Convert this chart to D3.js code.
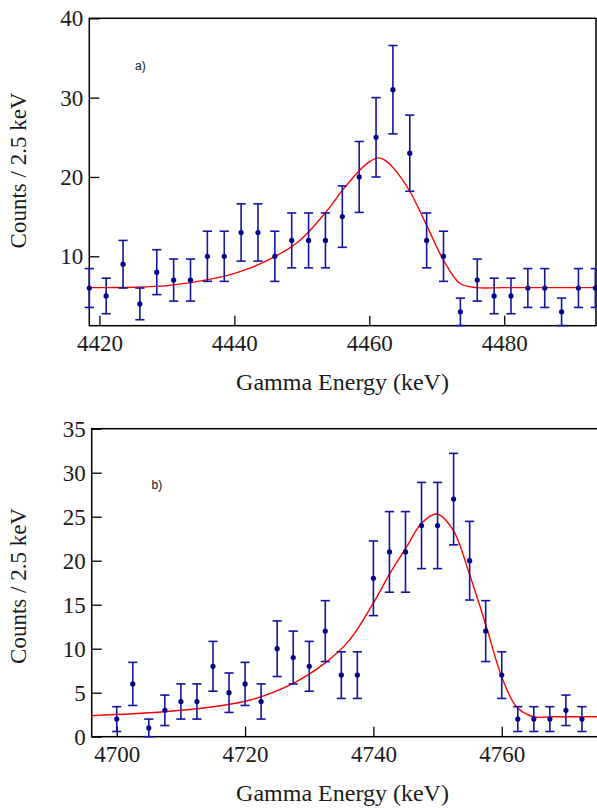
<!DOCTYPE html>
<html>
<head>
<meta charset="utf-8">
<script src="https://cdn.jsdelivr.net/npm/d3@7"></script>
<style>
  body { margin: 0; background: #fff; }
</style>
</head>
<body>
<svg width="597" height="808"></svg>
<script>
// panel a) counts per 2.5 keV bin
const energyA = [4418.5, 4421, 4423.5, 4426, 4428.5, 4431, 4433.5, 4436, 4438.5, 4441, 4443.5,
  4446, 4448.5, 4451, 4453.5, 4456, 4458.5, 4461, 4463.5, 4466, 4468.5, 4471, 4473.5,
  4476, 4478.5, 4481, 4483.5, 4486, 4488.5, 4491, 4493.5];
const countsA = [6, 5, 9, 4, 8, 7, 7, 10, 10, 13, 13, 10, 12, 12, 12, 15, 20, 25, 31, 23, 12, 10, 3,
  7, 5, 5, 6, 6, 3, 6, 6];
const errorsA = [2.45, 2.24, 3, 2, 2.83, 2.65, 2.65, 3.16, 3.16, 3.61, 3.61, 3.16, 3.46, 3.46, 3.46,
  3.87, 4.47, 5, 5.57, 4.8, 3.46, 3.16, 1.73, 2.65, 2.24, 2.24, 2.45, 2.45, 1.73, 2.45, 2.45];
// fitted curve a)
const fitEnergyA = [4418.5, 4425, 4430, 4435, 4438.6, 4442.3, 4446, 4449.7, 4453.4, 4456.1, 4458.4,
  4460, 4461.3, 4462.5, 4464, 4466, 4468.5, 4471, 4473.4, 4475.9, 4480, 4493.6];
const fitCountsA = [6.05, 6.1, 6.3, 6.9, 7.5, 8.5, 9.95, 12.0, 15.4, 18.4, 20.7,
  21.9, 22.4, 22.0, 20.7, 18.2, 13.9, 9.5, 6.6, 6.05, 6.05, 6.05];
const ticksXA = [4420, 4440, 4460, 4480];
const ticksYA = [10, 20, 30, 40];

// panel b)
const energyB = [4700, 4702.5, 4705, 4707.5, 4710, 4712.5, 4715, 4717.5, 4720, 4722.5, 4725,
  4727.5, 4730, 4732.5, 4735, 4737.5, 4740, 4742.5, 4745, 4747.5, 4750, 4752.5, 4755,
  4757.5, 4760, 4762.5, 4765, 4767.5, 4770, 4772.5];
const countsB = [2, 6, 1, 3, 4, 4, 8, 5, 6, 4, 10, 9, 8, 12, 7, 7, 18, 21, 21, 24, 24, 27, 20,
  12, 7, 2, 2, 2, 3, 2];
const errorsB = [1.41, 2.45, 1, 1.73, 2, 2, 2.83, 2.24, 2.45, 2, 3.16, 3, 2.83, 3.46, 2.65, 2.65,
  4.24, 4.58, 4.58, 4.9, 4.9, 5.2, 4.47, 3.46, 2.65, 1.41, 1.41, 1.41, 1.73, 1.41];
const fitEnergyB = [4696.1, 4702.5, 4710, 4715, 4720.8, 4727.5, 4732.7, 4736.3, 4740, 4742.6,
  4745.2, 4747.5, 4749.9, 4752.4, 4755, 4757.6, 4760, 4762.3, 4764.9, 4768, 4775];
const fitCountsB = [2.4, 2.6, 3.0, 3.4, 4.17, 6.07, 8.5, 11.0, 15.2, 18.6,
  21.6, 24.25, 25.3, 23.5, 18.4, 12.5, 6.8, 3.4, 2.27, 2.27, 2.27];
const ticksXB = [4700, 4720, 4740, 4760];
const ticksYB = [0, 5, 10, 15, 20, 25, 30, 35];

const serif = '"Liberation Serif", "Times New Roman", serif';
const svg = d3.select('svg');

function drawPanel(p) {
  const x = d3.scaleLinear().domain(p.xDomain).range([p.left, p.right]);
  const y = d3.scaleLinear().domain(p.yDomain).range([p.bottom, p.top]);
  const g = svg.append('g');

  // frame
  g.append('rect')
    .attr('x', p.left).attr('y', p.top)
    .attr('width', p.right - p.left).attr('height', p.bottom - p.top)
    .attr('fill', 'none').attr('stroke', '#000').attr('stroke-width', 1.5);

  // axes with inward ticks
  const ax = g.append('g').attr('transform', 'translate(0,' + p.bottom + ')')
    .call(d3.axisBottom(x).tickValues(p.ticksX).tickSizeInner(-10).tickSizeOuter(0)
      .tickPadding(9).tickFormat(d3.format('d')));
  const ay = g.append('g').attr('transform', 'translate(' + p.left + ',0)')
    .call(d3.axisLeft(y).tickValues(p.ticksY).tickSizeInner(-10).tickSizeOuter(0)
      .tickPadding(6).tickFormat(d3.format('d')));
  [ax, ay].forEach(a => {
    a.select('.domain').remove();
    a.selectAll('line').attr('stroke', '#000').attr('stroke-width', 1.3);
    a.selectAll('text')
      .style('font-family', serif).style('font-size', '23px').style('fill', '#1a1a1a');
  });

  // fit curve
  const line = d3.line().x(d => x(d[0])).y(d => y(d[1])).curve(d3.curveCatmullRom.alpha(0.5));
  g.append('path')
    .datum(d3.zip(p.fitE, p.fitC))
    .attr('d', line)
    .attr('fill', 'none').attr('stroke', '#ff0000').attr('stroke-width', 1.4);

  // error bars
  const pts = p.energy.map((e, i) => ({ e: e, c: p.counts[i], s: p.errors[i] }));
  const bars = g.append('g').attr('stroke', '#1414a0').attr('stroke-width', 1.6);
  bars.selectAll('line.v').data(pts).enter().append('line')
    .attr('x1', d => x(d.e)).attr('x2', d => x(d.e))
    .attr('y1', d => y(d.c - d.s)).attr('y2', d => y(d.c + d.s));
  bars.selectAll('line.lo').data(pts).enter().append('line')
    .attr('x1', d => x(d.e) - 4.6).attr('x2', d => x(d.e) + 4.6)
    .attr('y1', d => y(d.c - d.s)).attr('y2', d => y(d.c - d.s));
  bars.selectAll('line.hi').data(pts).enter().append('line')
    .attr('x1', d => x(d.e) - 4.6).attr('x2', d => x(d.e) + 4.6)
    .attr('y1', d => y(d.c + d.s)).attr('y2', d => y(d.c + d.s));

  g.selectAll('circle').data(pts).enter().append('circle')
    .attr('cx', d => x(d.e)).attr('cy', d => y(d.c)).attr('r', 2.6)
    .attr('fill', '#000088');

  // labels
  g.append('text')
    .attr('x', 342.5).attr('y', p.bottom + 64)
    .attr('text-anchor', 'middle')
    .style('font-family', serif).style('font-size', '24px').style('fill', '#1a1a1a')
    .text('Gamma Energy (keV)');
  g.append('text')
    .attr('transform', 'translate(26,' + p.labelY + ') rotate(-90)')
    .attr('text-anchor', 'middle')
    .style('font-family', serif).style('font-size', '23px').style('fill', '#1a1a1a')
    .text('Counts / 2.5 keV');
  g.append('text')
    .attr('x', p.tagX).attr('y', p.tagY)
    .style('font-family', '"Liberation Sans", Arial, sans-serif')
    .style('font-size', '12px').style('fill', '#111')
    .text(p.tag);
}

drawPanel({
  left: 89.3, right: 596, top: 18.3, bottom: 325.7,
  xDomain: [4418.5, 4493.6], yDomain: [1.25, 40],
  ticksX: ticksXA, ticksY: ticksYA,
  energy: energyA, counts: countsA, errors: errorsA,
  fitE: fitEnergyA, fitC: fitCountsA,
  labelY: 170.5, tag: 'a)', tagX: 135, tagY: 70
});

drawPanel({
  left: 91.7, right: 598, top: 428.7, bottom: 736.7,
  xDomain: [4696.1, 4775], yDomain: [0, 35],
  ticksX: ticksXB, ticksY: ticksYB,
  energy: energyB, counts: countsB, errors: errorsB,
  fitE: fitEnergyB, fitC: fitCountsB,
  labelY: 586, tag: 'b)', tagX: 151.5, tagY: 489
});
</script>
</body>
</html>
